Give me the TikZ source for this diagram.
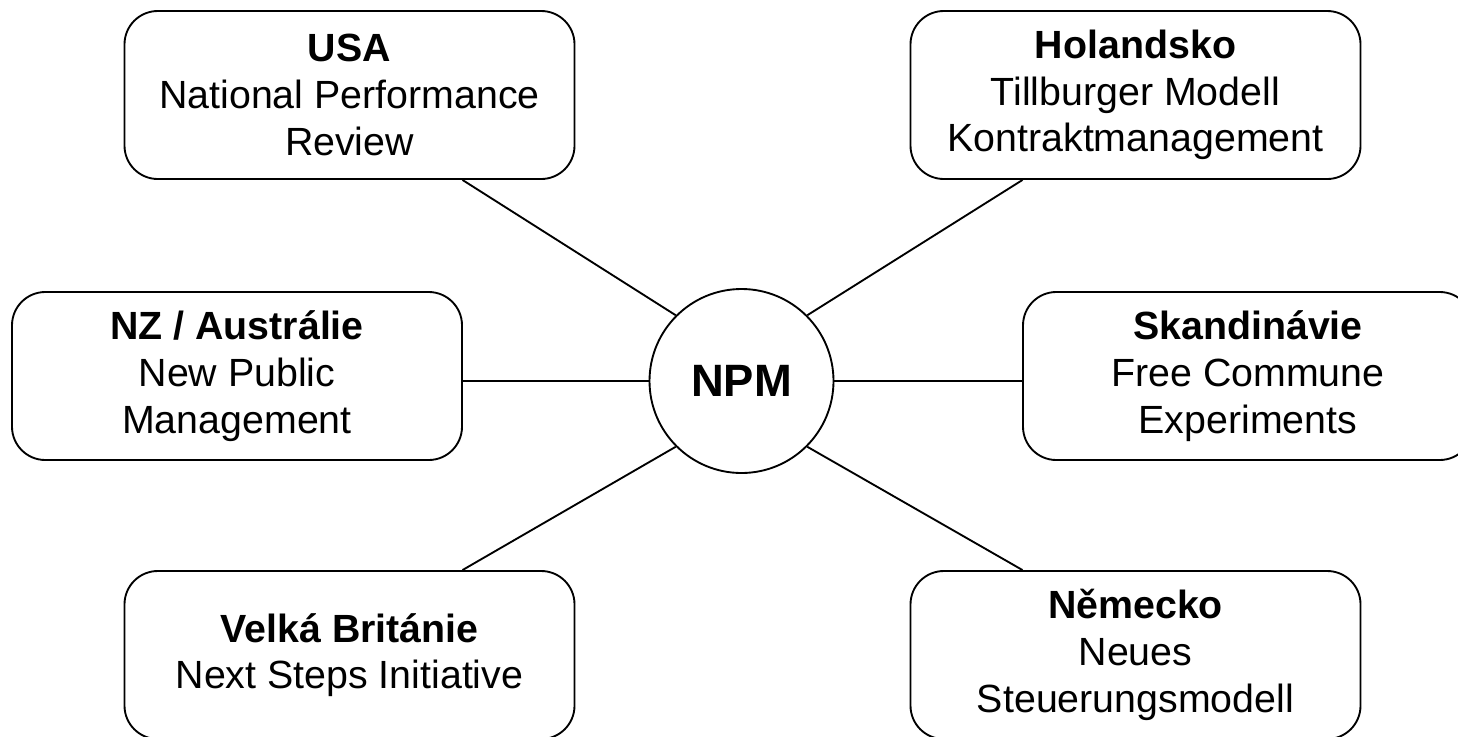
\documentclass[tikz,border=0pt]{standalone}
\usepackage{fontspec}
\setmainfont{Liberation Sans}
\usetikzlibrary{calc}
\begin{document}
\begin{tikzpicture}[x=0.75pt,y=-0.75pt,
  box/.style={draw, line width=1.4pt, rounded corners=25pt, minimum width=337.5pt, minimum height=126pt, inner sep=0pt, align=center, font=\fontsize{29.5}{35}\selectfont},
  hub/.style={draw, circle, line width=1.4pt, minimum size=138pt, inner sep=0pt, font=\fontsize{34}{40}\selectfont\bfseries},
  link/.style={line width=1.4pt}]
\useasboundingbox (0,0) rectangle (1458,736);
\node[hub] (npm) at (741.5,381) {NPM};
\node[box] (usa) at (349.5,95) {\textbf{USA}\\National Performance\\Review};
\node[box] (hol) at (1135.5,95) {\textbf{Holandsko}\\Tillburger Modell\\Kontraktmanagement};
\node[box] (nz) at (237,376) {\textbf{NZ / Austrálie}\\New Public\\Management};
\node[box] (ska) at (1248,376) {\textbf{Skandinávie}\\Free Commune\\Experiments};
\node[box] (gb) at (349.5,655) {\textbf{Velká Británie}\\Next Steps Initiative};
\node[box] (de) at (1135.5,655) {\textbf{Německo}\\Neues\\Steuerungsmodell};
\draw[link] (npm.135) -- ($(usa.south west)!0.75!(usa.south east)$);
\draw[link] (npm.45) -- ($(hol.south west)!0.25!(hol.south east)$);
\draw[link] (npm.west) -- (npm.west -| nz.east);
\draw[link] (npm.east) -- (npm.east -| ska.west);
\draw[link] (npm.225) -- ($(gb.north west)!0.75!(gb.north east)$);
\draw[link] (npm.315) -- ($(de.north west)!0.25!(de.north east)$);
\end{tikzpicture}
\end{document}
